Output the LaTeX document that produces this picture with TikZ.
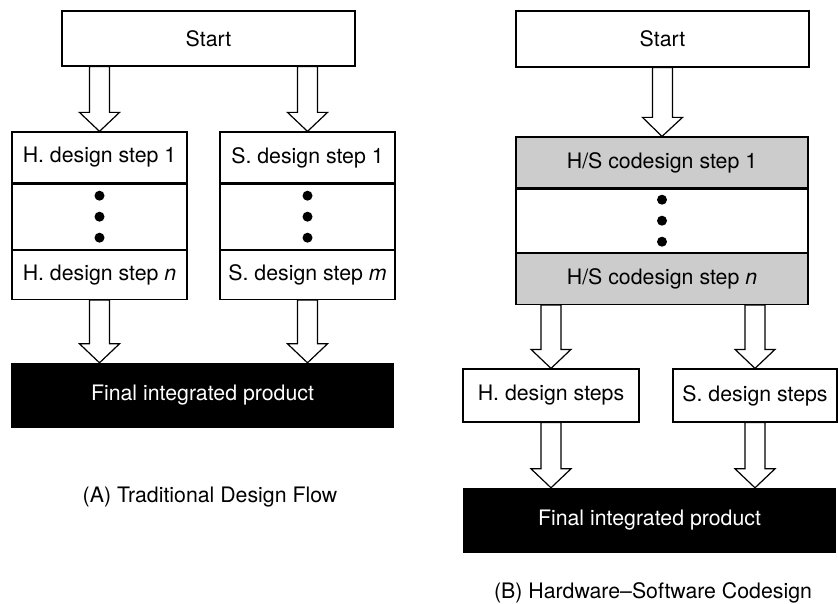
\documentclass[tikz,border=0pt]{standalone}
\usepackage{fontspec}
\setmainfont{TeX Gyre Heros}
\usetikzlibrary{positioning,calc}

\tikzset{
  stepbox/.style={draw, line width=1.2pt, inner sep=0pt, fill=white},
  greybox/.style={stepbox, fill=black!20},
  blackbox/.style={fill=black, text=white, inner sep=0pt},
  blockarrow/.style={draw, line width=1.2pt, fill=white, line join=miter}
}

% hollow block arrow from #1 (top of shaft) down to #2 (tip)
\newcommand{\fatarrow}[2]{%
  \draw[blockarrow] let \p1=(#1), \p2=(#2) in
    (\x1-10pt,\y1) -- (\x1-10pt,\y2+19pt) -- (\x1-20pt,\y2+19pt) -- (\x2,\y2)
    -- (\x1+20pt,\y2+19pt) -- (\x1+10pt,\y2+19pt) -- (\x1+10pt,\y1) -- cycle;}

\begin{document}
\begin{tikzpicture}[x=1pt, y=-1pt, node distance=0pt,
  every node/.style={font=\fontsize{21.3}{25}\selectfont}]
  \useasboundingbox (0,0) rectangle (838,604);

  % (A) traditional design flow
  \node[stepbox, minimum width=293pt, minimum height=55pt] (startA) at (208.5,38.5) {Start};
  \node[stepbox, minimum width=175pt, minimum height=51pt] (h1) at (99.5,157.5) {H. design step 1};
  \node[stepbox, minimum width=175pt, minimum height=65pt, below=of h1] (hdots) {};
  \node[stepbox, minimum width=175pt, minimum height=49pt, below=of hdots] (hn) {H. design step \textit{n}};
  \node[stepbox, minimum width=175pt, minimum height=51pt] (s1) at (307.5,157.5) {S. design step 1};
  \node[stepbox, minimum width=175pt, minimum height=65pt, below=of s1] (sdots) {};
  \node[stepbox, minimum width=175pt, minimum height=49pt, below=of sdots] (sn) {S. design step \textit{m}};
  \node[blackbox, minimum width=383pt, minimum height=65pt] (finalA) at (202.5,395.5) {Final integrated product};
  \node (capA) at (210,497) {(A) Traditional Design Flow};

  \fatarrow{startA.south -| h1.north}{h1.north}
  \fatarrow{startA.south -| s1.north}{s1.north}
  \fatarrow{hn.south}{finalA.north -| hn.south}
  \fatarrow{sn.south}{finalA.north -| sn.south}

  % (B) hardware-software codesign
  \node[stepbox, minimum width=293pt, minimum height=56pt] (startB) at (662.5,39) {Start};
  \node[greybox, minimum width=292pt, minimum height=51pt] (c1) at (662,162.5) {H/S codesign step 1};
  \node[stepbox, minimum width=292pt, minimum height=63pt, below=of c1] (cdots) {};
  \node[greybox, minimum width=292pt, minimum height=51pt, below=of cdots] (cn) {H/S codesign step \textit{n}};
  \node[stepbox, minimum width=176pt, minimum height=53pt] (hB) at (551,395.5) {H. design steps};
  \node[stepbox, minimum width=164pt, minimum height=53pt] (sB) at (755,395.5) {S. design steps};
  \node[blackbox, minimum width=373pt, minimum height=65pt] (finalB) at (649.5,520.5) {Final integrated product};
  \node (capB) at (653,593) {(B) Hardware--Software Codesign};

  \fatarrow{startB.south}{c1.north}
  \fatarrow{cn.south -| hB.north}{hB.north}
  \fatarrow{cn.south -| sB.north}{sB.north}
  \fatarrow{hB.south}{finalB.north -| hB.south}
  \fatarrow{sB.south}{finalB.north -| sB.south}

  % ellipsis dots
  \foreach \stack in {hdots,sdots,cdots}
    \foreach \d in {-21,0,21}
      \fill ($(\stack.center)+(0,\d)$) circle (5pt);
\end{tikzpicture}
\end{document}
